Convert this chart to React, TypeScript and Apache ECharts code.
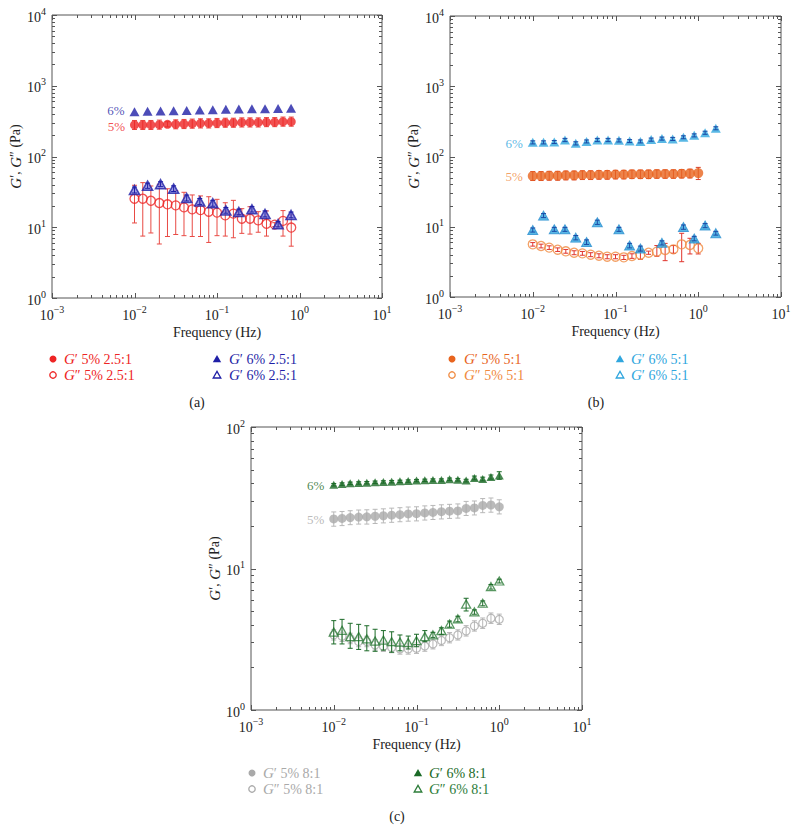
import React, { useEffect, useRef } from 'react';
import * as echarts from 'echarts';

const SERIF = 'Liberation Serif, Times New Roman, DejaVu Serif, serif';

// ---------- Panel (a) 2.5:1 ----------
const A_F20 = [0.01, 0.0126, 0.0158, 0.02, 0.0251, 0.0316, 0.0398, 0.0501, 0.0631, 0.0794, 0.1, 0.126, 0.158, 0.2, 0.251, 0.316, 0.398, 0.501, 0.631, 0.794];
const A_F13 = [0.01, 0.0144, 0.0207, 0.0298, 0.0429, 0.0618, 0.0889, 0.128, 0.184, 0.265, 0.382, 0.55, 0.79];
const A_GP5 = [279, 279, 279, 282, 285, 285, 288, 291, 294, 294, 297, 300, 300, 303, 303, 303, 306, 306, 311, 311];
const A_GP5_LO = [241, 241, 241, 243, 262, 246, 248, 251, 253, 253, 256, 259, 259, 261, 261, 261, 264, 264, 268, 268];
const A_GP5_HI = [323, 323, 323, 327, 310, 330, 334, 338, 341, 341, 345, 348, 348, 352, 352, 352, 355, 355, 361, 361];
const A_GPP5 = [25.3, 25.3, 23.7, 22.0, 21.1, 20.4, 19.1, 17.9, 17.5, 16.6, 16.1, 14.7, 15.6, 13.2, 13.2, 12.5, 11.2, 10.9, 12.3, 9.9];
const A_GPP5_LO = [11.5, 7.5, 8.3, 5.8, 7.4, 7.9, 7.6, 7.4, 7.4, 6.1, 7.6, 7.5, 7.1, 8.2, 8.0, 8.5, 7.5, 10.2, 7.5, 5.4];
const A_GPP5_HI = [39.2, 42.7, 38.3, 40.5, 35.0, 32.9, 31.2, 28.6, 27.7, 27.0, 24.8, 22.2, 24.0, 18.3, 19.5, 16.6, 17.0, 11.6, 17.2, 15.0];
const A_GP6 = [430, 435, 440, 445, 448, 455, 458, 465, 468, 472, 472, 478, 482];
const A_GPP6 = [33.6, 38.7, 40.5, 35.1, 25.9, 23.2, 21.8, 17.3, 16.4, 17.9, 15.4, 11.0, 14.9];
const A_GPP6_LO = [30.5, 35.5, 37.5, 32.0, 23.5, 21.0, 19.8, 15.8, 15.0, 16.4, 14.0, 10.1, 13.6];
const A_GPP6_HI = [37.0, 42.0, 44.0, 38.5, 28.5, 25.5, 24.0, 19.0, 18.0, 19.6, 17.0, 12.0, 16.4];

// ---------- Panel (b) 5:1 ----------
const B_F21 = [0.01, 0.0126, 0.0158, 0.02, 0.0251, 0.0316, 0.0398, 0.0501, 0.0631, 0.0794, 0.1, 0.126, 0.158, 0.2, 0.251, 0.316, 0.398, 0.501, 0.631, 0.794, 1.0];
const B_F18 = [0.01, 0.0135, 0.0182, 0.0245, 0.0331, 0.0447, 0.0603, 0.0813, 0.11, 0.148, 0.2, 0.27, 0.364, 0.491, 0.662, 0.894, 1.21, 1.63];
const B_F15 = [0.01, 0.0135, 0.0182, 0.0245, 0.0331, 0.0447, 0.0603, 0.11, 0.148, 0.2, 0.364, 0.662, 0.894, 1.21, 1.63];
const B_GP5 = [52.8, 52.8, 53.3, 53.3, 53.9, 53.9, 54.5, 54.5, 55.0, 55.0, 55.5, 55.5, 56.0, 56.0, 56.0, 56.5, 56.5, 56.5, 57.0, 57.5, 58.0];
const B_GP5_LO = [45.5, 45.5, 46, 46, 46.5, 46.5, 47, 47, 47.5, 47.5, 48, 48, 48.5, 48.5, 48.5, 49, 49, 49, 49.5, 49.5, 47];
const B_GP5_HI = [61, 61, 61.5, 61.5, 62, 62, 62.5, 62.5, 63, 63, 63.5, 63.5, 64, 64, 64, 64.5, 64.5, 64.5, 65, 66, 70];
const B_GPP5 = [5.62, 5.32, 5.04, 4.71, 4.47, 4.27, 4.18, 4.0, 3.87, 3.75, 3.75, 3.67, 3.83, 4.0, 4.27, 4.42, 4.67, 4.77, 5.62, 5.5, 4.93];
const B_GPP5_LO = [5.3, 5.0, 4.75, 4.45, 4.2, 4.0, 3.93, 3.75, 3.62, 3.5, 3.5, 3.42, 3.55, 3.44, 4.05, 3.8, 3.29, 4.2, 3.18, 4.1, 4.1];
const B_GPP5_HI = [5.95, 5.65, 5.35, 5.0, 4.75, 4.55, 4.45, 4.27, 4.12, 4.0, 4.0, 3.92, 4.12, 4.67, 4.5, 5.4, 5.8, 5.4, 8.07, 6.85, 5.8];
const B_GP6 = [159, 159, 161, 172, 154, 164, 172, 172, 170, 166, 164, 174, 180, 178, 188, 200, 218, 252];
const B_GP6_LO = [151, 151, 153, 163, 146, 156, 163, 163, 161, 158, 156, 165, 171, 169, 179, 190, 207, 240];
const B_GP6_HI = [167, 167, 169, 181, 162, 172, 181, 181, 178, 174, 172, 183, 189, 187, 197, 210, 229, 265];
const B_GPP6 = [9.0, 14.4, 9.2, 9.2, 7.0, 6.07, 11.6, 9.2, 5.4, 4.9, 5.9, 9.9, 6.8, 10.4, 8.1];
const B_GPP6_LO = [8.4, 13.5, 8.6, 8.6, 6.5, 5.6, 10.8, 8.6, 5.0, 4.5, 5.5, 9.2, 6.3, 9.7, 7.6];
const B_GPP6_HI = [9.6, 15.4, 9.8, 9.8, 7.5, 6.5, 12.4, 9.8, 5.8, 5.3, 6.3, 10.6, 7.3, 11.1, 8.6];

// ---------- Panel (c) 8:1 ----------
const C_F21 = [0.01, 0.0126, 0.0158, 0.02, 0.0251, 0.0316, 0.0398, 0.0501, 0.0631, 0.0794, 0.1, 0.126, 0.158, 0.2, 0.251, 0.316, 0.398, 0.501, 0.631, 0.794, 1.0];
const C_GP5 = [22.4, 22.6, 22.9, 23.1, 23.2, 23.4, 23.6, 23.8, 24.0, 24.3, 24.4, 24.7, 24.9, 25.2, 25.4, 25.5, 26.6, 26.8, 27.9, 28.1, 27.3];
const C_GP5_LO = [19.9, 20.1, 20.4, 20.6, 20.6, 20.8, 21.0, 21.2, 21.4, 21.6, 21.7, 22.0, 22.2, 22.4, 22.6, 22.7, 23.7, 23.9, 24.8, 25.0, 24.3];
const C_GP5_HI = [25.1, 25.3, 25.6, 25.9, 26.0, 26.2, 26.4, 26.7, 26.9, 27.2, 27.3, 27.7, 27.9, 28.2, 28.4, 28.6, 29.8, 30.0, 31.2, 31.5, 30.6];
const C_GPP5 = [3.39, 3.32, 3.2, 3.05, 3.05, 2.88, 2.82, 2.76, 2.7, 2.7, 2.73, 2.83, 2.93, 3.1, 3.24, 3.39, 3.62, 3.92, 4.1, 4.45, 4.37];
const C_GPP5_LO = [3.12, 3.05, 2.94, 2.8, 2.8, 2.65, 2.59, 2.54, 2.48, 2.48, 2.51, 2.6, 2.7, 2.85, 2.98, 3.12, 3.33, 3.61, 3.77, 4.09, 4.02];
const C_GPP5_HI = [3.69, 3.62, 3.49, 3.32, 3.32, 3.14, 3.07, 3.01, 2.94, 2.94, 2.98, 3.08, 3.19, 3.38, 3.53, 3.69, 3.95, 4.27, 4.47, 4.85, 4.76];
const C_GP6 = [39.1, 39.5, 40.0, 40.2, 40.4, 40.7, 40.9, 41.1, 41.3, 41.5, 41.8, 42.0, 42.2, 42.2, 42.7, 42.4, 41.8, 43.6, 42.9, 44.3, 45.5];
const C_GP6_LO = [38.3, 38.7, 39.2, 39.4, 39.6, 39.9, 40.1, 40.3, 40.5, 40.7, 41.0, 41.2, 41.4, 41.4, 41.8, 41.5, 40.9, 42.3, 41.6, 42.8, 42.7];
const C_GP6_HI = [39.9, 40.3, 40.8, 41.0, 41.2, 41.5, 41.7, 41.9, 42.1, 42.3, 42.6, 42.8, 43.0, 43.0, 43.6, 43.3, 42.7, 45.0, 44.2, 45.8, 48.3];
const C_GPP6 = [3.55, 3.66, 3.3, 3.3, 3.18, 3.07, 3.12, 3.04, 3.02, 2.99, 3.09, 3.3, 3.39, 3.64, 4.05, 4.4, 5.61, 4.93, 5.68, 7.44, 8.16];
const C_GPP6_LO = [2.93, 2.93, 2.73, 2.68, 2.62, 2.6, 2.65, 2.56, 2.62, 2.7, 2.8, 3.04, 3.26, 3.43, 3.85, 4.2, 5.01, 4.75, 5.45, 7.15, 7.9];
const C_GPP6_HI = [4.28, 4.37, 4.1, 4.03, 3.94, 3.72, 3.64, 3.57, 3.39, 3.33, 3.43, 3.64, 3.54, 3.81, 4.25, 4.6, 6.16, 5.1, 5.9, 7.7, 8.4];

// ---------- Axes ----------
const X_MAJOR = [0.001, 0.01, 0.1, 1, 10];
const Y_MAJOR_AB = [1, 10, 100, 1000, 10000];
const Y_MAJOR_C = [1, 10, 100];
const MINOR_STEPS = [2, 3, 4, 5, 6, 7, 8, 9];

const RED = '#ee2424';
const RED_BAR = '#e84a44';
const BLUE = '#1f1fa6';
const ORANGE = '#e8641e';
const ORANGE_L = '#f08a40';
const SKY = '#30a6de';
const SKY_BAR = '#1a4aa6';
const GRAY = '#a9a9a9';
const GRAY_BAR = '#b8b8b8';
const GREEN = '#1b6a27';
const GREEN_L = '#2e7d3a';
const AXIS = '#555555';
const TEXT = '#222222';

const pts = (xs: number[], ys: number[], label?: { text: string; color: string; dy: number }) =>
  xs.map((x, i) => {
    if (i === 0 && label) {
      return {
        value: [x, ys[i]],
        label: {
          show: true,
          formatter: label.text,
          position: 'left',
          distance: 5,
          offset: [0, label.dy],
          color: label.color,
          fontSize: 13,
          lineHeight: 12,
          fontFamily: SERIF,
        },
      };
    }
    return [x, ys[i]];
  });

const bars = (xs: number[], lo: number[], hi: number[]) => xs.map((x, i) => [x, lo[i], hi[i]]);

function tickData(yMajor: number[]) {
  const d: number[][] = [];
  X_MAJOR.forEach((v, i) => {
    d.push([v, yMajor[1], 0]);
    if (i < X_MAJOR.length - 1) MINOR_STEPS.forEach((m) => d.push([v * m, yMajor[1], 1]));
  });
  yMajor.forEach((v, i) => {
    d.push([1, v, 2]);
    if (i < yMajor.length - 1) MINOR_STEPS.forEach((m) => d.push([1, v * m, 3]));
  });
  return d;
}

function tickSeries(idx: number, yMajor: number[]) {
  return {
    type: 'custom',
    xAxisIndex: idx,
    yAxisIndex: idx,
    silent: true,
    clip: false,
    z: 1,
    encode: { x: 0, y: 1 },
    data: tickData(yMajor),
    renderItem: (params: any, api: any) => {
      const cs = params.coordSys;
      const kind = api.value(2);
      const st = { stroke: AXIS, lineWidth: 1 };
      if (kind < 2) {
        const px = Math.round(api.coord([api.value(0), api.value(1)])[0]) + 0.5;
        const len = kind === 0 ? 5 : 3;
        const b = cs.y + cs.height;
        return {
          type: 'group',
          children: [
            { type: 'line', shape: { x1: px, y1: b, x2: px, y2: b - len }, style: st },
            { type: 'line', shape: { x1: px, y1: cs.y, x2: px, y2: cs.y + len }, style: st },
          ],
        };
      }
      const py = Math.round(api.coord([api.value(0), api.value(1)])[1]) + 0.5;
      const len = kind === 2 ? 5 : 3;
      const r = cs.x + cs.width;
      return {
        type: 'group',
        children: [
          { type: 'line', shape: { x1: cs.x, y1: py, x2: cs.x + len, y2: py }, style: st },
          { type: 'line', shape: { x1: r, y1: py, x2: r - len, y2: py }, style: st },
        ],
      };
    },
  };
}

function errSeries(idx: number, data: number[][], color: string, z = 2) {
  return {
    type: 'custom',
    xAxisIndex: idx,
    yAxisIndex: idx,
    silent: true,
    z,
    encode: { x: 0, y: [1, 2] },
    data,
    renderItem: (_p: any, api: any) => {
      const x = api.value(0);
      const p1 = api.coord([x, api.value(1)]);
      const p2 = api.coord([x, api.value(2)]);
      const w = 2.5;
      const st = { stroke: color, lineWidth: 1 };
      return {
        type: 'group',
        children: [
          { type: 'line', shape: { x1: p1[0], y1: p1[1], x2: p2[0], y2: p2[1] }, style: st },
          { type: 'line', shape: { x1: p1[0] - w, y1: p1[1], x2: p1[0] + w, y2: p1[1] }, style: st },
          { type: 'line', shape: { x1: p2[0] - w, y1: p2[1], x2: p2[0] + w, y2: p2[1] }, style: st },
        ],
      };
    },
  };
}

function scatter(idx: number, name: string, data: any[], symbol: string, size: any, itemStyle: any, z = 3) {
  return {
    type: 'scatter',
    name,
    xAxisIndex: idx,
    yAxisIndex: idx,
    symbol,
    symbolSize: size,
    itemStyle,
    z,
    silent: true,
    data,
  };
}

const supLabel = (v: number) => {
  const e = Math.round(Math.log10(v));
  return `{b|10}{s|${e < 0 ? '\u2212' + -e : e}}`;
};

const labelRich = {
  b: { fontSize: 14, fontFamily: SERIF, color: TEXT, lineHeight: 18, verticalAlign: 'bottom' },
  s: { fontSize: 10, fontFamily: SERIF, color: TEXT, lineHeight: 18, verticalAlign: 'top' },
};

function legendGroup(items: { x: number; y: number; sym: string; color: string; pre: string; rest: string; tx: number }[]) {
  const els: any[] = [];
  items.forEach((it) => {
    if (it.sym === 'dot') {
      els.push({ type: 'circle', shape: { cx: it.x, cy: it.y, r: 3.5 }, style: { fill: it.color } });
    } else if (it.sym === 'ring') {
      els.push({ type: 'circle', shape: { cx: it.x, cy: it.y, r: 3.2 }, style: { fill: 'none', stroke: it.color, lineWidth: 1.3 } });
    } else if (it.sym === 'tri') {
      els.push({ type: 'polygon', shape: { points: [[it.x, it.y - 4], [it.x + 4.2, it.y + 3.3], [it.x - 4.2, it.y + 3.3]] }, style: { fill: it.color } });
    } else {
      els.push({ type: 'polygon', shape: { points: [[it.x, it.y - 3.6], [it.x + 3.8, it.y + 3], [it.x - 3.8, it.y + 3]] }, style: { fill: 'none', stroke: it.color, lineWidth: 1.3 } });
    }
    els.push({
      type: 'text',
      x: it.tx,
      y: it.y,
      style: {
        text: `{i|G}{n|${it.pre} ${it.rest}}`,
        verticalAlign: 'middle',
        rich: {
          i: { fontStyle: 'italic', fontFamily: SERIF, fontSize: 15, fill: it.color },
          n: { fontFamily: SERIF, fontSize: 14, fill: it.color },
        },
      },
    });
  });
  return els;
}

const GRIDS = [
  { left: 52, top: 15, width: 330, height: 283 },
  { left: 450, top: 16, width: 331, height: 281 },
  { left: 251, top: 427, width: 331, height: 283 },
];

export default function App() {
  const ref = useRef<HTMLDivElement>(null);
  useEffect(() => {
    document.body.style.margin = '0';
    const chart = echarts.init(ref.current!, undefined, { renderer: 'svg' });
    const option: any = {
      animation: false,
      backgroundColor: '#ffffff',
      textStyle: { fontFamily: SERIF },
      grid: GRIDS.map((g) => ({ ...g, show: true, borderColor: AXIS, borderWidth: 1, backgroundColor: 'transparent' })),
      xAxis: [0, 1, 2].map((i) => ({
        type: 'log',
        logBase: 10,
        gridIndex: i,
        min: 0.001,
        max: 10,
        axisLine: { show: false },
        axisTick: { show: false },
        splitLine: { show: false },
        axisLabel: { formatter: supLabel, rich: labelRich, margin: 6 },
        name: 'Frequency (Hz)',
        nameLocation: 'middle',
        nameGap: 27,
        nameTextStyle: { fontFamily: SERIF, fontSize: 14, fontWeight: 'normal', color: TEXT },
      })),
      yAxis: [0, 1, 2].map((i) => ({
        type: 'log',
        logBase: 10,
        gridIndex: i,
        min: 1,
        max: i < 2 ? 10000 : 100,
        axisLine: { show: false },
        axisTick: { show: false },
        splitLine: { show: false },
        axisLabel: { formatter: supLabel, rich: labelRich, margin: 6 },
        name: '{i|G}{n|\u2032, }{i|G}{n|\u2033 (Pa)}',
        nameLocation: 'middle',
        nameGap: 29,
        nameTextStyle: {
          fontFamily: SERIF,
          rich: {
            i: { fontStyle: 'italic', fontFamily: SERIF, fontSize: 15, color: TEXT },
            n: { fontFamily: SERIF, fontSize: 14, color: TEXT },
          },
        },
      })),
      graphic: [
        ...legendGroup([
          { x: 53, y: 359, sym: 'dot', color: RED, pre: '\u2032', rest: '5% 2.5:1', tx: 64 },
          { x: 53, y: 375, sym: 'ring', color: RED, pre: '\u2033', rest: '5% 2.5:1', tx: 64 },
          { x: 217, y: 359, sym: 'tri', color: BLUE, pre: '\u2032', rest: '6% 2.5:1', tx: 229 },
          { x: 217, y: 375, sym: 'otri', color: BLUE, pre: '\u2032', rest: '6% 2.5:1', tx: 229 },
          { x: 452, y: 359, sym: 'dot', color: ORANGE, pre: '\u2032', rest: '5% 5:1', tx: 464 },
          { x: 452, y: 375, sym: 'ring', color: ORANGE_L, pre: '\u2033', rest: '5% 5:1', tx: 464 },
          { x: 620, y: 359, sym: 'tri', color: SKY, pre: '\u2032', rest: '6% 5:1', tx: 631 },
          { x: 620, y: 375, sym: 'otri', color: SKY, pre: '\u2032', rest: '6% 5:1', tx: 631 },
          { x: 252, y: 773, sym: 'dot', color: GRAY, pre: '\u2032', rest: '5% 8:1', tx: 263 },
          { x: 252, y: 789, sym: 'ring', color: GRAY, pre: '\u2033', rest: '5% 8:1', tx: 263 },
          { x: 418, y: 773, sym: 'tri', color: GREEN, pre: '\u2032', rest: '6% 8:1', tx: 429 },
          { x: 418, y: 789, sym: 'otri', color: GREEN_L, pre: '\u2033', rest: '6% 8:1', tx: 429 },
        ]),
        { type: 'text', x: 197, y: 402, style: { text: '(a)', fontFamily: SERIF, fontSize: 14, fill: TEXT, align: 'center', verticalAlign: 'middle' } },
        { type: 'text', x: 596, y: 402, style: { text: '(b)', fontFamily: SERIF, fontSize: 14, fill: TEXT, align: 'center', verticalAlign: 'middle' } },
        { type: 'text', x: 397, y: 816, style: { text: '(c)', fontFamily: SERIF, fontSize: 14, fill: TEXT, align: 'center', verticalAlign: 'middle' } },
      ],
      series: [
        tickSeries(0, Y_MAJOR_AB),
        tickSeries(1, Y_MAJOR_AB),
        tickSeries(2, Y_MAJOR_C),

        // (a)
        errSeries(0, bars(A_F20, A_GPP5_LO, A_GPP5_HI), RED_BAR),
        errSeries(0, bars(A_F20, A_GP5_LO, A_GP5_HI), RED_BAR),
        errSeries(0, bars(A_F13, A_GPP6_LO, A_GPP6_HI), BLUE, 4),
        scatter(0, "G'' 5% 2.5:1", pts(A_F20, A_GPP5), 'circle', 9, { color: 'transparent', borderColor: RED, borderWidth: 1.3 }),
        scatter(0, "G' 5% 2.5:1", pts(A_F20, A_GP5, { text: '5%', color: RED, dy: 1.5 }), 'circle', 9, { color: RED }),
        scatter(0, "G' 6% 2.5:1", pts(A_F13, A_GP6, { text: '6%', color: BLUE, dy: -1.5 }), 'triangle', [10, 9], { color: BLUE }),
        scatter(0, "G'' 6% 2.5:1", pts(A_F13, A_GPP6), 'triangle', [10, 9], { color: '#8a8ae0', borderColor: BLUE, borderWidth: 1.6 }),

        // (b)
        errSeries(1, bars(B_F21, B_GP5_LO, B_GP5_HI), '#d8402a'),
        errSeries(1, bars(B_F21, B_GPP5_LO, B_GPP5_HI), '#e0342c'),
        scatter(1, "G' 5% 5:1", pts(B_F21, B_GP5, { text: '5%', color: ORANGE_L, dy: 1 }), 'circle', 10, { color: ORANGE }),
        scatter(1, "G'' 5% 5:1", pts(B_F21, B_GPP5), 'circle', 9, { color: 'transparent', borderColor: ORANGE_L, borderWidth: 1.3 }),
        scatter(1, "G' 6% 5:1", pts(B_F18, B_GP6, { text: '6%', color: SKY, dy: 1 }), 'triangle', [10, 9], { color: SKY }),
        scatter(1, "G'' 6% 5:1", pts(B_F15, B_GPP6), 'triangle', [10, 9], { color: SKY, borderColor: '#2a8fd0', borderWidth: 1 }),
        errSeries(1, bars(B_F18, B_GP6_LO, B_GP6_HI), SKY_BAR, 4),
        errSeries(1, bars(B_F15, B_GPP6_LO, B_GPP6_HI), SKY_BAR, 4),

        // (c)
        errSeries(2, bars(C_F21, C_GP5_LO, C_GP5_HI), GRAY_BAR),
        errSeries(2, bars(C_F21, C_GPP5_LO, C_GPP5_HI), GRAY_BAR),
        scatter(2, "G' 5% 8:1", pts(C_F21, C_GP5, { text: '5%', color: GRAY, dy: 1 }), 'circle', 9, { color: GRAY }),
        scatter(2, "G'' 5% 8:1", pts(C_F21, C_GPP5), 'circle', 8, { color: 'transparent', borderColor: GRAY, borderWidth: 1.2 }),
        scatter(2, "G' 6% 8:1", pts(C_F21, C_GP6, { text: '6%', color: GREEN, dy: 1 }), 'triangle', [9, 8], { color: GREEN }),
        scatter(2, "G'' 6% 8:1", pts(C_F21, C_GPP6), 'triangle', [9, 8], { color: 'rgba(255,255,255,0.5)', borderColor: GREEN_L, borderWidth: 1.3 }),
        errSeries(2, bars(C_F21, C_GP6_LO, C_GP6_HI), GREEN, 4),
        errSeries(2, bars(C_F21, C_GPP6_LO, C_GPP6_HI), GREEN, 4),
      ],
    };
    chart.setOption(option);
    return () => chart.dispose();
  }, []);
  return <div ref={ref} style={{ position: 'absolute', left: 0, top: 0, width: 796, height: 830, background: '#fff' }} />;
}
